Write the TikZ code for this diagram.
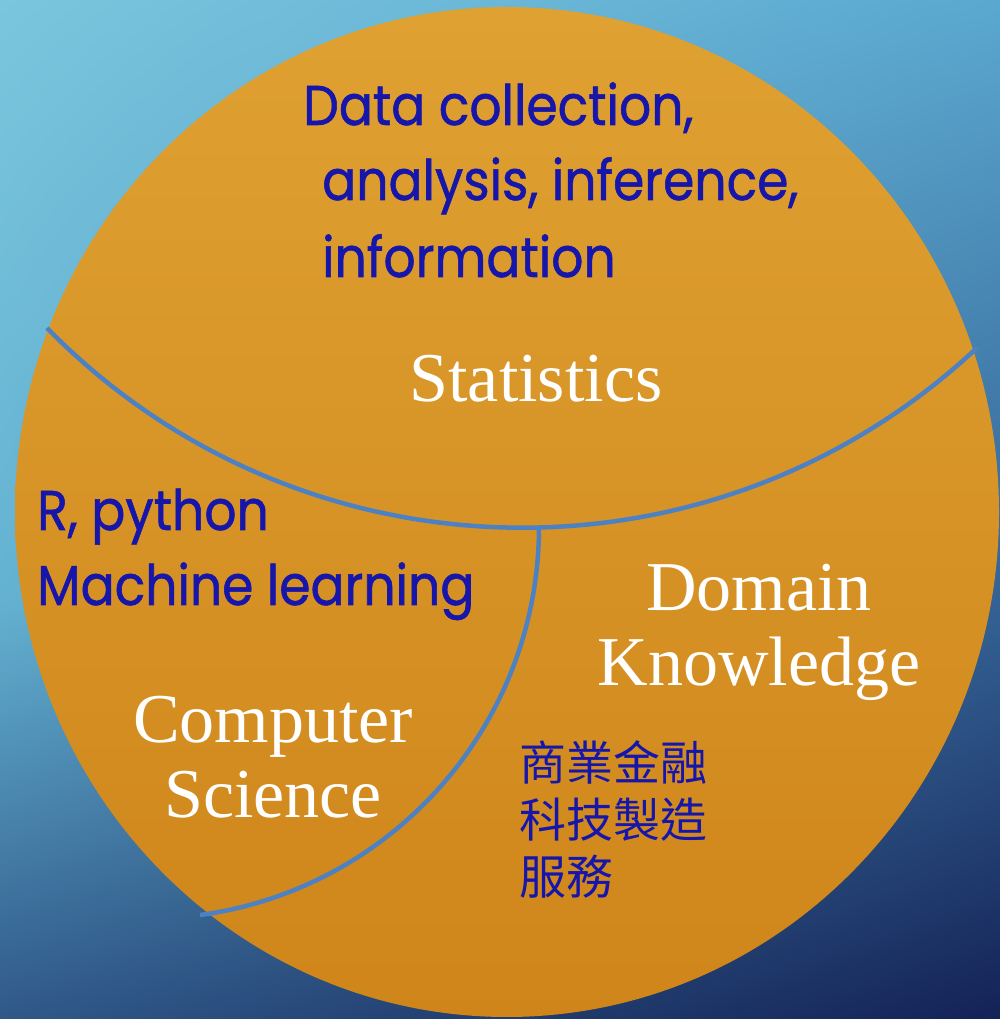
\documentclass[tikz,border=0pt]{standalone}
\usepackage{fontspec}
\setmainfont{Liberation Serif}
\newfontfamily\geofont[FakeStretch=0.9,FakeBold=1]{Poppins}
\newfontfamily\cjkfont{Noto Sans CJK TC}
\usetikzlibrary{shadings}
\definecolor{bgtl}{RGB}{122,198,222}
\definecolor{bgtr}{RGB}{90,168,208}
\definecolor{bgml}{RGB}{100,178,210}
\definecolor{bgmr}{RGB}{52,98,148}
\definecolor{bgbl}{RGB}{47,88,136}
\definecolor{bgbr}{RGB}{20,34,86}
\definecolor{disctop}{RGB}{223,161,50}
\definecolor{discbottom}{RGB}{207,133,26}
\definecolor{lineblue}{RGB}{76,130,196}
\definecolor{textblue}{RGB}{22,22,170}

\begin{document}
\begin{tikzpicture}[x=1pt,y=1pt,
    label_white/.style ={text=white, inner sep=0pt, align=center,
      font=\fontsize{70}{75}\selectfont},
    label_blue/.style ={text=textblue, inner sep=0pt, anchor=base west,
      font=\geofont\fontsize{56}{76}\selectfont},
    label_cjk/.style ={text=textblue, inner sep=0pt, anchor=base west,
      align=left, font=\cjkfont\fontsize{47}{57}\selectfont},
    divider/.style ={draw=lineblue, line width=4.5pt}]
  % background and the big disc
  \useasboundingbox (0,0) rectangle (1000,1019);
  \shade[upper left=bgtl, upper right=bgtr, lower left=bgml, lower right=bgmr]
    (0,418) rectangle (1000,1019);
  \shade[upper left=bgml, upper right=bgmr, lower left=bgbl, lower right=bgbr]
    (0,0) rectangle (1000,420);
  \shade[top color=disctop, bottom color=discbottom]
    (507,507) ellipse [x radius=492, y radius=505];

  % the two dividing curves
  \coordinate (stat_west) at (47,691);
  \coordinate (stat_join) at (539,492.2);
  \draw[divider] (stat_west) arc[start angle=224.4, end angle=313.2, radius=665];
  \draw[divider] (stat_join) arc[start angle=0, end angle=-82.25, radius=391.8];

  % statistics
  \node[label_blue] (data_a) at (303,894) {Data collection,};
  \node[label_blue] (data_b) at (322,819) {analysis, inference,};
  \node[label_blue] (data_c) at (322,742) {information};
  \node[label_white, anchor=base] (stat) at (536,617) {Statistics};

  % computer science
  \node[label_blue] (tools_a) at (37,489) {R, python};
  \node[label_blue] (tools_b) at (37,414) {Machine learning};
  \node[label_white, anchor=base] (cs) at (273,201) {Computer\\Science};

  % domain knowledge
  \node[label_white, anchor=base] (domain) at (759,333) {Domain\\Knowledge};
  \node[label_cjk] (fields) at (519,124) {商業金融\\科技製造\\服務};
\end{tikzpicture}
\end{document}
